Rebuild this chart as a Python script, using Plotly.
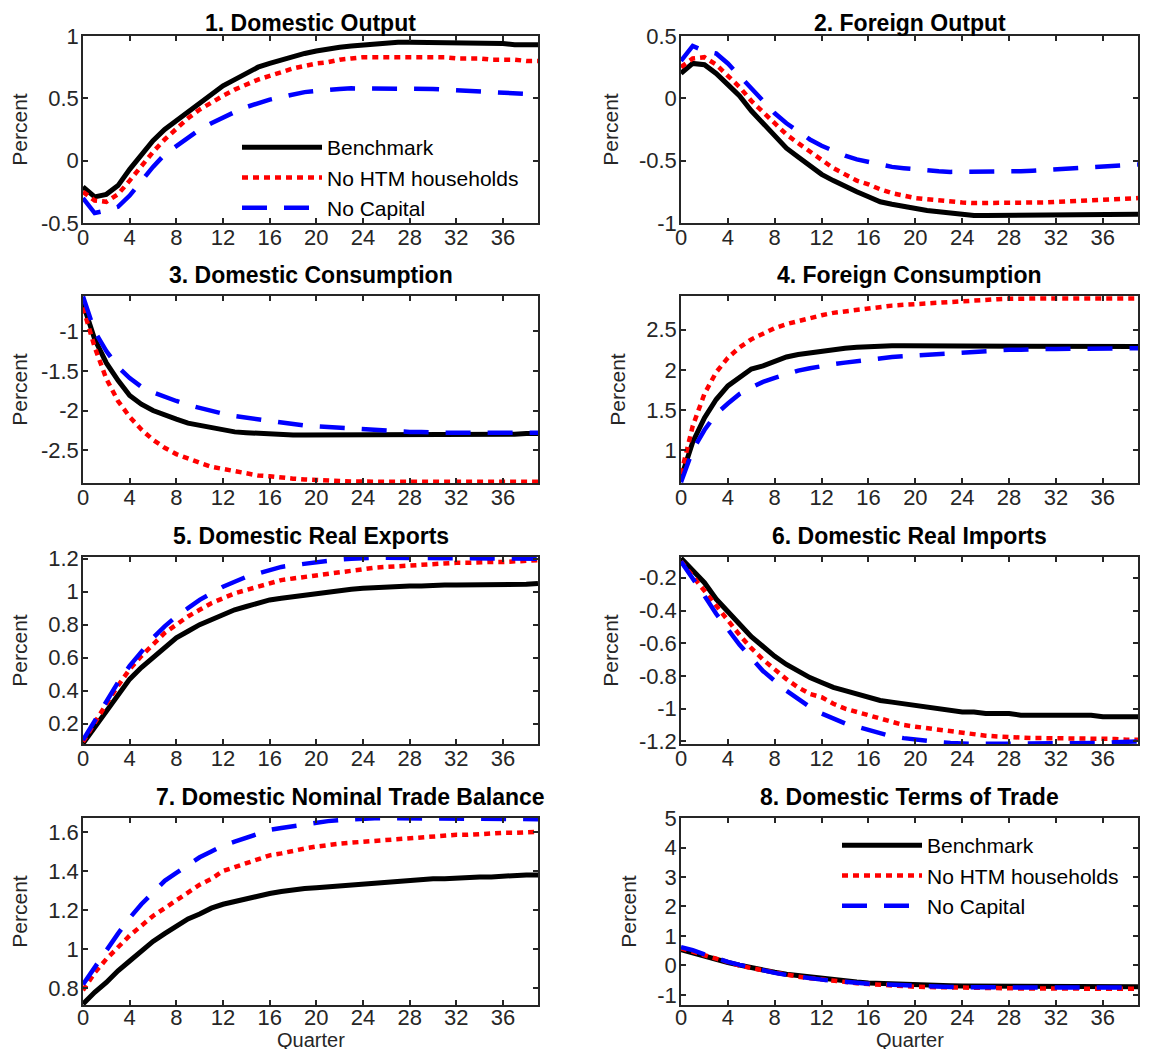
import plotly.graph_objects as go

# quarters after the shock
quarters = list(range(40))

panel_titles = [
    "1. Domestic Output", "2. Foreign Output",
    "3. Domestic Consumption", "4. Foreign Consumption",
    "5. Domestic Real Exports", "6. Domestic Real Imports",
    "7. Domestic Nominal Trade Balance", "8. Domestic Terms of Trade",
]
scenario_names = ["Benchmark", "No HTM households", "No Capital"]

# 1. Domestic output
dom_output_bench = [-0.21, -0.29, -0.27, -0.20, -0.07, 0.05, 0.16, 0.25, 0.32, 0.40,
                    0.47, 0.54, 0.60, 0.65, 0.70, 0.75, 0.78, 0.81, 0.84, 0.86,
                    0.88, 0.90, 0.91, 0.92, 0.93, 0.93, 0.94, 0.95, 0.95, 0.95,
                    0.95, 0.94, 0.94, 0.94, 0.94, 0.94, 0.94, 0.93, 0.93, 0.93]
dom_output_nohtm = [-0.25, -0.32, -0.33, -0.27, -0.16, -0.04, 0.07, 0.17, 0.26, 0.34,
                    0.41, 0.47, 0.52, 0.57, 0.61, 0.65, 0.68, 0.71, 0.74, 0.76,
                    0.78, 0.79, 0.81, 0.82, 0.83, 0.83, 0.83, 0.83, 0.83, 0.83,
                    0.83, 0.83, 0.82, 0.82, 0.82, 0.81, 0.81, 0.81, 0.80, 0.80]
dom_output_nocap = [-0.30, -0.42, -0.40, -0.37, -0.28, -0.16, -0.05, 0.05, 0.12, 0.19,
                    0.25, 0.30, 0.35, 0.39, 0.43, 0.46, 0.49, 0.51, 0.53, 0.55,
                    0.56, 0.57, 0.575, 0.58, 0.58, 0.58, 0.58, 0.58, 0.58, 0.58,
                    0.575, 0.57, 0.565, 0.56, 0.55, 0.55, 0.54, 0.54, 0.535, 0.53]

# 2. Foreign output
for_output_bench = [0.20, 0.28, 0.27, 0.20, 0.11, 0.02, -0.10, -0.20, -0.30, -0.40,
                    -0.47, -0.54, -0.61, -0.66, -0.71, -0.75, -0.79, -0.83, -0.85, -0.87,
                    -0.89, -0.90, -0.91, -0.92, -0.93, -0.94, -0.94, -0.94, -0.94, -0.94,
                    -0.94, -0.94, -0.94, -0.94, -0.94, -0.93, -0.93, -0.93, -0.93, -0.93]
for_output_nohtm = [0.25, 0.32, 0.33, 0.27, 0.18, 0.09, -0.02, -0.11, -0.20, -0.29,
                    -0.36, -0.43, -0.50, -0.56, -0.61, -0.66, -0.69, -0.73, -0.76, -0.78,
                    -0.80, -0.81, -0.82, -0.83, -0.835, -0.84, -0.84, -0.84, -0.84, -0.84,
                    -0.84, -0.835, -0.83, -0.825, -0.82, -0.82, -0.81, -0.81, -0.80, -0.80]
for_output_nocap = [0.30, 0.42, 0.38, 0.36, 0.28, 0.18, 0.07, -0.03, -0.12, -0.20,
                    -0.27, -0.33, -0.38, -0.42, -0.46, -0.49, -0.51, -0.53, -0.55, -0.56,
                    -0.57, -0.58, -0.585, -0.59, -0.59, -0.59, -0.59, -0.59, -0.59, -0.585,
                    -0.58, -0.575, -0.57, -0.565, -0.56, -0.555, -0.55, -0.54, -0.535, -0.53]

# 3. Domestic consumption
dom_cons_bench = [-0.65, -1.10, -1.40, -1.62, -1.81, -1.92, -2.00, -2.06, -2.11, -2.16,
                  -2.19, -2.21, -2.25, -2.27, -2.28, -2.29, -2.30, -2.30, -2.31, -2.31,
                  -2.31, -2.31, -2.31, -2.31, -2.31, -2.31, -2.31, -2.31, -2.31, -2.31,
                  -2.31, -2.31, -2.31, -2.30, -2.30, -2.30, -2.30, -2.30, -2.29, -2.29]
dom_cons_nohtm = [-0.70, -1.20, -1.60, -1.88, -2.08, -2.24, -2.37, -2.47, -2.55, -2.61,
                  -2.66, -2.71, -2.74, -2.77, -2.80, -2.82, -2.83, -2.85, -2.86, -2.87,
                  -2.88, -2.885, -2.89, -2.895, -2.90, -2.90, -2.90, -2.90, -2.90, -2.90,
                  -2.90, -2.90, -2.90, -2.90, -2.90, -2.90, -2.90, -2.90, -2.90, -2.90]
dom_cons_nocap = [-0.56, -1.00, -1.25, -1.45, -1.59, -1.70, -1.77, -1.83, -1.88, -1.93,
                  -1.97, -2.01, -2.04, -2.07, -2.09, -2.12, -2.14, -2.16, -2.17, -2.19,
                  -2.20, -2.21, -2.22, -2.23, -2.24, -2.25, -2.26, -2.26, -2.27, -2.27,
                  -2.28, -2.28, -2.28, -2.28, -2.28, -2.28, -2.28, -2.28, -2.28, -2.28]

# 4. Foreign consumption
for_cons_bench = [0.65, 1.10, 1.40, 1.63, 1.80, 1.90, 2.01, 2.05, 2.10, 2.16,
                  2.19, 2.21, 2.24, 2.26, 2.27, 2.28, 2.29, 2.29, 2.30, 2.30,
                  2.30, 2.30, 2.30, 2.30, 2.30, 2.30, 2.30, 2.30, 2.30, 2.30,
                  2.30, 2.30, 2.30, 2.29, 2.29, 2.29, 2.29, 2.29, 2.29, 2.29]
for_cons_nohtm = [0.70, 1.30, 1.70, 1.97, 2.15, 2.28, 2.38, 2.45, 2.52, 2.57,
                  2.61, 2.65, 2.68, 2.71, 2.73, 2.75, 2.77, 2.78, 2.80, 2.81,
                  2.82, 2.83, 2.84, 2.85, 2.86, 2.87, 2.875, 2.88, 2.885, 2.89,
                  2.89, 2.89, 2.89, 2.89, 2.89, 2.89, 2.89, 2.89, 2.89, 2.89]
for_cons_nocap = [0.60, 1.00, 1.25, 1.45, 1.58, 1.70, 1.78, 1.85, 1.90, 1.95,
                  1.99, 2.02, 2.05, 2.07, 2.09, 2.11, 2.13, 2.15, 2.16, 2.17,
                  2.18, 2.19, 2.20, 2.21, 2.22, 2.23, 2.235, 2.24, 2.25, 2.25,
                  2.26, 2.26, 2.26, 2.26, 2.26, 2.26, 2.26, 2.27, 2.27, 2.27]

# 5. Domestic real exports
dom_exp_bench = [0.08, 0.18, 0.28, 0.38, 0.47, 0.54, 0.60, 0.66, 0.72, 0.76,
                 0.80, 0.83, 0.86, 0.89, 0.91, 0.93, 0.95, 0.96, 0.97, 0.98,
                 0.99, 1.00, 1.01, 1.015, 1.02, 1.025, 1.03, 1.03, 1.035, 1.035,
                 1.04, 1.04, 1.04, 1.04, 1.04, 1.04, 1.04, 1.04, 1.045, 1.05]
dom_exp_nohtm = [0.09, 0.21, 0.32, 0.43, 0.53, 0.61, 0.68, 0.75, 0.80, 0.85,
                 0.89, 0.93, 0.96, 0.99, 1.01, 1.03, 1.05, 1.07, 1.08, 1.09,
                 1.10, 1.11, 1.12, 1.13, 1.14, 1.145, 1.15, 1.155, 1.16, 1.165,
                 1.17, 1.17, 1.175, 1.175, 1.18, 1.18, 1.18, 1.185, 1.19, 1.19]
dom_exp_nocap = [0.10, 0.22, 0.34, 0.45, 0.55, 0.64, 0.72, 0.79, 0.85, 0.90,
                 0.95, 0.99, 1.03, 1.06, 1.09, 1.11, 1.13, 1.15, 1.16, 1.17,
                 1.18, 1.19, 1.195, 1.20, 1.205, 1.205, 1.205, 1.205, 1.205, 1.205,
                 1.205, 1.205, 1.205, 1.205, 1.20, 1.20, 1.20, 1.20, 1.20, 1.20]

# 6. Domestic real imports
dom_imp_bench = [-0.08, -0.15, -0.23, -0.33, -0.41, -0.49, -0.56, -0.62, -0.68, -0.73,
                 -0.77, -0.81, -0.84, -0.87, -0.89, -0.91, -0.93, -0.95, -0.96, -0.97,
                 -0.98, -0.99, -1.00, -1.01, -1.02, -1.02, -1.03, -1.03, -1.03, -1.04,
                 -1.04, -1.04, -1.04, -1.04, -1.04, -1.04, -1.05, -1.05, -1.05, -1.05]
dom_imp_nohtm = [-0.10, -0.19, -0.29, -0.38, -0.47, -0.55, -0.63, -0.70, -0.76, -0.82,
                 -0.87, -0.91, -0.93, -0.97, -1.00, -1.02, -1.04, -1.06, -1.08, -1.10,
                 -1.11, -1.12, -1.13, -1.14, -1.15, -1.16, -1.165, -1.17, -1.175, -1.18,
                 -1.18, -1.18, -1.18, -1.18, -1.18, -1.185, -1.185, -1.185, -1.19, -1.19]
dom_imp_nocap = [-0.10, -0.20, -0.31, -0.42, -0.52, -0.61, -0.69, -0.77, -0.83, -0.89,
                 -0.94, -0.99, -1.03, -1.06, -1.09, -1.11, -1.13, -1.15, -1.17, -1.18,
                 -1.19, -1.20, -1.205, -1.21, -1.215, -1.215, -1.215, -1.215, -1.215, -1.215,
                 -1.215, -1.215, -1.21, -1.21, -1.21, -1.21, -1.21, -1.205, -1.20, -1.20]

# 7. Domestic nominal trade balance
dom_tb_bench = [0.72, 0.78, 0.83, 0.89, 0.94, 0.99, 1.04, 1.08, 1.12, 1.155,
                1.18, 1.21, 1.23, 1.245, 1.26, 1.275, 1.285, 1.295, 1.305, 1.31,
                1.315, 1.32, 1.325, 1.33, 1.335, 1.34, 1.345, 1.35, 1.35, 1.355,
                1.36, 1.36, 1.365, 1.365, 1.37, 1.37, 1.375, 1.375, 1.38, 1.38]
dom_tb_nohtm = [0.79, 0.88, 0.95, 1.01, 1.07, 1.12, 1.17, 1.21, 1.25, 1.29,
                1.33, 1.36, 1.40, 1.42, 1.44, 1.46, 1.48, 1.49, 1.505, 1.515,
                1.525, 1.535, 1.54, 1.545, 1.55, 1.555, 1.56, 1.565, 1.57, 1.575,
                1.58, 1.58, 1.585, 1.585, 1.59, 1.59, 1.595, 1.595, 1.60, 1.60]
dom_tb_nocap = [0.82, 0.91, 0.99, 1.08, 1.16, 1.23, 1.29, 1.35, 1.39, 1.43,
                1.47, 1.50, 1.53, 1.55, 1.57, 1.59, 1.61, 1.62, 1.63, 1.64,
                1.65, 1.655, 1.66, 1.665, 1.67, 1.67, 1.67, 1.67, 1.67, 1.67,
                1.67, 1.67, 1.67, 1.67, 1.67, 1.67, 1.665, 1.665, 1.665, 1.665]

# 8. Domestic terms of trade
dom_tot_bench = [0.54, 0.42, 0.31, 0.20, 0.10, 0.01, -0.08, -0.16, -0.23, -0.30,
                 -0.35, -0.40, -0.45, -0.49, -0.53, -0.56, -0.59, -0.61, -0.63, -0.65,
                 -0.66, -0.67, -0.68, -0.69, -0.70, -0.70, -0.71, -0.71, -0.71, -0.72,
                 -0.72, -0.72, -0.72, -0.72, -0.72, -0.72, -0.72, -0.72, -0.72, -0.72]
dom_tot_nohtm = [0.58, 0.46, 0.33, 0.21, 0.10, 0.00, -0.09, -0.17, -0.25, -0.32,
                 -0.38, -0.43, -0.48, -0.52, -0.56, -0.60, -0.63, -0.66, -0.68, -0.70,
                 -0.72, -0.73, -0.74, -0.75, -0.76, -0.76, -0.77, -0.77, -0.78, -0.78,
                 -0.78, -0.78, -0.78, -0.78, -0.79, -0.79, -0.79, -0.79, -0.79, -0.79]
dom_tot_nocap = [0.62, 0.52, 0.38, 0.24, 0.12, 0.02, -0.08, -0.17, -0.25, -0.32,
                 -0.38, -0.43, -0.48, -0.52, -0.56, -0.59, -0.62, -0.64, -0.66, -0.68,
                 -0.70, -0.71, -0.72, -0.73, -0.74, -0.74, -0.75, -0.75, -0.75, -0.75,
                 -0.75, -0.75, -0.75, -0.75, -0.75, -0.75, -0.75, -0.75, -0.75, -0.75]

# y tick labels per panel
ytick_vals = [
    [-0.5, 0, 0.5, 1], [-1, -0.5, 0, 0.5],
    [-2.5, -2, -1.5, -1], [1, 1.5, 2, 2.5],
    [0.2, 0.4, 0.6, 0.8, 1, 1.2], [-1.2, -1, -0.8, -0.6, -0.4, -0.2],
    [0.8, 1, 1.2, 1.4, 1.6], [-1, 0, 1, 2, 3, 4, 5],
]
ytick_text = [
    ["-0.5", "0", "0.5", "1"], ["-1", "-0.5", "0", "0.5"],
    ["-2.5", "-2", "-1.5", "-1"], ["1", "1.5", "2", "2.5"],
    ["0.2", "0.4", "0.6", "0.8", "1", "1.2"], ["-1.2", "-1", "-0.8", "-0.6", "-0.4", "-0.2"],
    ["0.8", "1", "1.2", "1.4", "1.6"], ["-1", "0", "1", "2", "3", "4", "5"],
]
xtick_vals = [0, 4, 8, 12, 16, 20, 24, 28, 32, 36]

panel_series = [
    [dom_output_bench, dom_output_nohtm, dom_output_nocap],
    [for_output_bench, for_output_nohtm, for_output_nocap],
    [dom_cons_bench, dom_cons_nohtm, dom_cons_nocap],
    [for_cons_bench, for_cons_nohtm, for_cons_nocap],
    [dom_exp_bench, dom_exp_nohtm, dom_exp_nocap],
    [dom_imp_bench, dom_imp_nohtm, dom_imp_nocap],
    [dom_tb_bench, dom_tb_nohtm, dom_tb_nocap],
    [dom_tot_bench, dom_tot_nohtm, dom_tot_nocap],
]

# axis limits as in the original figure
y_ranges = [
    [-0.5, 1], [-1, 0.5],
    [-2.915, -0.555], [0.59, 2.92],
    [0.077, 1.21], [-1.216, -0.073],
    [0.715, 1.671], [-1.34, 5],
]

W, H = 1151, 1049
PAGE_OFFSET = 8  # the html body margin shifts the figure by 8px


def px_x(px):
    return (px - PAGE_OFFSET) / W


def px_y(px):
    return 1 - (px - PAGE_OFFSET) / H


# on-screen pixel boxes of the panels
col_px = [(83, 538), (681, 1138)]
row_px = [(36, 223), (296, 483), (557, 744), (818, 1005)]
# the long title of panel 7 sits right of centre in the original
title_xshift = [0, 0, 0, 0, 0, 0, 40, 0]
title_yshift = [-2, -2, 6, 6, 6, 6, 6, 6]

line_styles = [
    dict(color="black", width=5, dash="solid"),
    dict(color="red", width=4.5, dash="6px,5px"),
    dict(color="blue", width=4.5, dash="25px,17px"),
]

tick_font = dict(family="Liberation Sans, Arial", size=22, color="#262626")

fig = go.Figure()
annotations = []

for i in range(8):
    row, col = i // 2, i % 2
    n = i + 1
    xname = "xaxis" if n == 1 else f"xaxis{n}"
    yname = "yaxis" if n == 1 else f"yaxis{n}"
    xref = "x" if n == 1 else f"x{n}"
    yref = "y" if n == 1 else f"y{n}"

    x0, x1 = col_px[col]
    top, bot = row_px[row]
    xdom = [px_x(x0), px_x(x1)]
    ydom = [px_y(bot), px_y(top)]

    # legends sit in panel 1 and panel 8
    if i == 0:
        legend_name, show = "legend", True
    elif i == 7:
        legend_name, show = "legend2", True
    else:
        legend_name, show = "legend", False

    for k, series in enumerate(panel_series[i]):
        fig.add_trace(go.Scatter(
            x=quarters, y=series, mode="lines", name=scenario_names[k],
            line=line_styles[k], xaxis=xref, yaxis=yref,
            showlegend=show, legend=legend_name,
        ))

    axis_common = dict(
        showline=True, linecolor="#262626", linewidth=1.5, mirror="allticks",
        ticks="inside", ticklen=5, tickwidth=1.5, tickcolor="#262626",
        showgrid=False, zeroline=False, tickfont=tick_font, automargin=False,
    )
    xaxis = dict(axis_common, domain=xdom, anchor=yref, range=[0, 39],
                 tickmode="array", tickvals=xtick_vals,
                 ticklabelstandoff=-8 if row == 3 else -6)
    yaxis = dict(axis_common, domain=ydom, anchor=xref, range=y_ranges[i],
                 tickmode="array", tickvals=ytick_vals[i], ticktext=ytick_text[i],
                 ticklabelstandoff=-2,
                 title=dict(text="Percent",
                            font=dict(family="Liberation Sans Narrow, Liberation Sans",
                                      size=21, color="#262626")))
    fig.update_layout({xname: xaxis, yname: yaxis})

    annotations.append(dict(
        text=panel_titles[i], x=(xdom[0] + xdom[1]) / 2, y=ydom[1],
        xref="paper", yref="paper", xanchor="center", yanchor="bottom",
        xshift=title_xshift[i], yshift=title_yshift[i], showarrow=False,
        font=dict(family="Liberation Sans, Arial", size=23, color="black", weight="bold"),
    ))
    if row == 3:
        # x-axis label of the bottom panels, right under the tick labels
        annotations.append(dict(
            text="Quarter", x=(xdom[0] + xdom[1]) / 2, y=px_y(1040),
            xref="paper", yref="paper", xanchor="center", yanchor="middle",
            showarrow=False,
            font=dict(family="Liberation Sans, Arial", size=20, color="#262626"),
        ))

legend_common = dict(
    bgcolor="rgba(0,0,0,0)", borderwidth=0, itemwidth=80, tracegroupgap=0,
    font=dict(family="Liberation Sans, Arial", size=21, color="black"),
    xanchor="left", yanchor="top", itemclick=False,
)
fig.update_layout(
    width=W, height=H,
    margin=dict(l=0, r=0, t=0, b=0),
    paper_bgcolor="white", plot_bgcolor="white",
    annotations=annotations,
    legend=dict(legend_common, x=px_x(237), y=px_y(127)),
    legend2=dict(legend_common, x=px_x(837), y=px_y(825)),
)

fig.write_html("out.html")
